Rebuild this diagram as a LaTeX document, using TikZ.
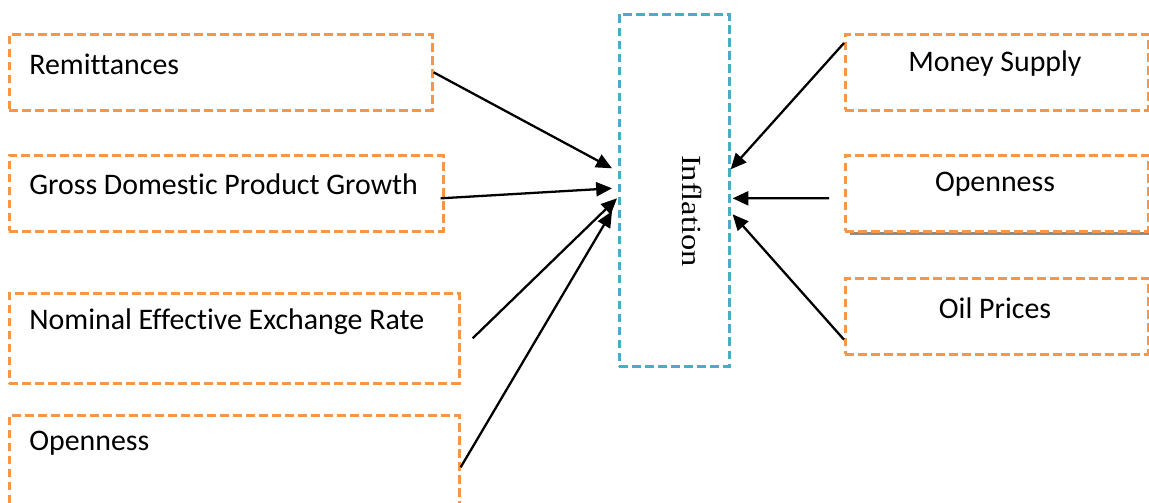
\documentclass[tikz,border=0pt]{standalone}
\usepackage{fontspec}
\setmainfont[Ligatures=CommonOff]{Carlito}
\newfontfamily\timesfont{Liberation Serif}
\usetikzlibrary{arrows.meta,calc}
\definecolor{boxorange}{HTML}{F79646}
\definecolor{boxteal}{HTML}{4BACC6}
\tikzset{
  factor/.style={draw=boxorange, line width=1.5pt, dash pattern=on 5pt off 2.4pt,
    rectangle, anchor=north west, minimum height=1.52cm, inner sep=0pt},
  target/.style={draw=boxteal, line width=1.5pt, dash pattern=on 5pt off 2.4pt,
    rectangle, anchor=north west, minimum width=2.2cm, minimum height=7.04cm, inner sep=0pt},
  lbl/.style={font=\fontsize{17}{20}\selectfont, inner sep=0pt},
  link/.style={line width=1.3pt, -{Triangle[length=9pt,width=8pt]}}
}
\begin{document}
\begin{tikzpicture}
      \clip (0,0) rectangle (22.98,-10.04);
      % left boxes
      \node[factor, minimum width=8.46cm] (remit) at (0.16,-0.66) {};
      \node[factor, minimum width=8.68cm] (gdp) at (0.16,-3.08) {};
      \node[factor, minimum width=9.00cm, minimum height=1.80cm] (neer) at (0.16,-5.84) {};
      \node[factor, minimum width=9.00cm, minimum height=2.00cm] (openl) at (0.16,-8.28) {};
      \node[lbl, anchor=west] (remitt) at (0.58,-1.28) {Remittances};
      \node[lbl, anchor=west] (gdpt) at (0.58,-3.68) {Gross Domestic Product Growth};
      \node[lbl, anchor=west] (neert) at (0.58,-6.44) {Nominal Effective Exchange Rate};
      \node[lbl, anchor=west] (openlt) at (0.58,-8.86) {Openness};
      % inflation
      \node[target] (infl) at (12.36,-0.26) {};
      \node[rotate=-90, inner sep=0pt] (inflt) at (13.84,-4.22)
        {\timesfont\fontsize{18.5}{20}\selectfont\scalebox{1}[0.85]{Inflation}};
      % right boxes
      \draw[gray!90, line width=2pt] (17.0,-4.67) -- (22.98,-4.67);
      \node[factor, minimum width=6.06cm] (money) at (16.88,-0.66) {};
      \node[factor, minimum width=6.06cm] (openr) at (16.88,-3.08) {};
      \node[factor, minimum width=6.06cm] (oil) at (16.88,-5.54) {};
      \node[lbl] (moneyt) at (19.90,-1.28) {Money Supply};
      \node[lbl] (openrt) at (19.90,-3.68) {Openness};
      \node[lbl] (oilt) at (19.90,-6.16) {Oil Prices};
      % arrow ends
      \coordinate (a1) at ($(infl.west)+(-0.12,0.44)$);
      \coordinate (a2) at ($(infl.west)+(-0.12,0.04)$);
      \coordinate (a3) at ($(infl.west)+(-0.02,-0.16)$);
      \coordinate (a4) at ($(infl.west)+(-0.12,-0.42)$);
      \coordinate (b1) at ($(infl.east)+(0.0,0.42)$);
      \coordinate (b2) at ($(infl.east)+(0.04,-0.16)$);
      \coordinate (b3) at ($(infl.east)+(0.04,-0.48)$);
      \begin{scope}[link]
        \draw (remit.east) to (a1);
        \draw ([yshift=-0.1cm,xshift=-0.08cm]gdp.east) to (a2);
        \draw ([xshift=0.24cm]neer.east) to (a3);
        \draw ([yshift=-0.04cm]openl.east) to (a4);
        \draw ([yshift=-0.2cm]money.north west) to (b1);
        \draw ([xshift=-0.3cm,yshift=-0.1cm]openr.west) to (b2);
        \draw ([yshift=0.32cm]oil.south west) to (b3);
      \end{scope}
    \end{tikzpicture}
\end{document}
